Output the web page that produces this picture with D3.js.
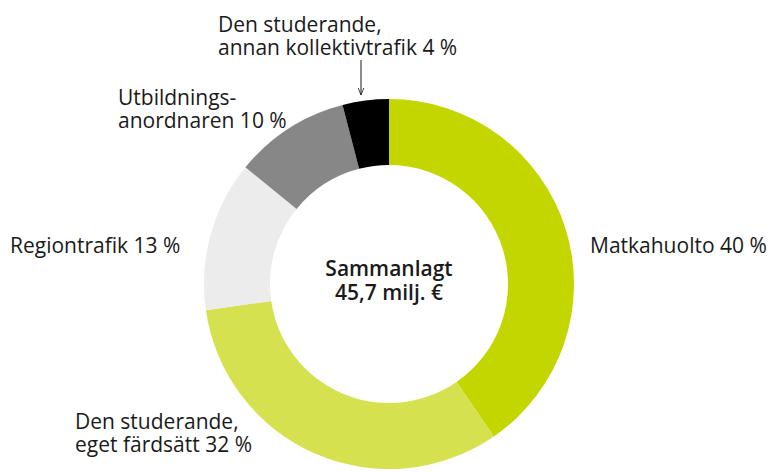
<!DOCTYPE html>
<html>
<head>
<meta charset="utf-8">
<script src="https://cdn.jsdelivr.net/npm/d3@7"></script>
<style>
  body { margin: 0; background: #fff; }
  svg text { font-family: "Open Sans", sans-serif; fill: #1a1a1a; }
  .lbl { font-size: 21px; }
  .total { font-size: 21px; font-weight: 600; }
</style>
</head>
<body>
<div class="chart"></div>
<script>
const categories = [
    "Matkahuolto",
    "Den studerande, eget färdsätt",
    "Regiontrafik",
    "Utbildningsanordnaren",
    "Den studerande, annan kollektivtrafik"
]
const shares = [40, 32, 13, 10, 4]
const colors = ["#c4d600", "#d5e14f", "#ececec", "#878787", "#000000"]
const labelLines = [
    ["Matkahuolto 40 %"],
    ["Den studerande,", "eget färdsätt 32 %"],
    ["Regiontrafik 13 %"],
    ["Utbildnings-", "anordnaren 10 %"],
    ["Den studerande,", "annan kollektivtrafik 4 %"]
]
const totalLines = ["Sammanlagt", "45,7 milj. €"]

function drawDonut() {
    let dimensions = {
        width: 771,
        height: 472,
        cx: 389,
        cy: 284,
        outer: 185,
        inner: 119,
    }

    const wrapper = d3.select(".chart")
        .append("svg")
        .attr("width", dimensions.width)
        .attr("height", dimensions.height)

    const bounds = wrapper.append("g")
        .attr("transform", `translate(${dimensions.cx},${dimensions.cy})`)

    const data = categories.map((c, i) => ({ name: c, value: shares[i], color: colors[i], lines: labelLines[i] }))

    const pie = d3.pie().sort(null).value(d => d.value)
    const arc = d3.arc().innerRadius(dimensions.inner).outerRadius(dimensions.outer)

    const arcs = pie(data)

    bounds.selectAll("path")
        .data(arcs)
        .join("path")
        .attr("d", arc)
        .attr("fill", d => d.data.color)

    // where each label starts (first baseline)
    const labelPos = [
        { x: 590, y: 253 },
        { x: 75, y: 429 },
        { x: 10, y: 253 },
        { x: 118, y: 105 },
        { x: 218, y: 32 }
    ]

    const lineHeight = 23

    const labels = wrapper.append("g")
        .selectAll("text")
        .data(arcs)
        .join("text")
        .attr("class", "lbl")
        .attr("x", (d, i) => labelPos[i].x)
        .attr("y", (d, i) => labelPos[i].y)

    labels.selectAll("tspan")
        .data((d, i) => d.data.lines.map(l => ({ l, x: labelPos[i].x })))
        .join("tspan")
        .attr("x", d => d.x)
        .attr("dy", (d, i) => i == 0 ? 0 : lineHeight)
        .text(d => d.l)

    // arrow pointing at the small black slice
    const defs = wrapper.append("defs")
    defs.append("marker")
        .attr("id", "arrow")
        .attr("viewBox", "0 0 10 10")
        .attr("refX", 10)
        .attr("refY", 5)
        .attr("markerWidth", 7)
        .attr("markerHeight", 7)
        .attr("orient", "auto")
        .append("path")
        .attr("d", "M0,1 L10,5 L0,9")
        .attr("fill", "none")
        .attr("stroke", "#1a1a1a")
        .attr("stroke-width", 1.2)

    wrapper.append("line")
        .attr("x1", 361)
        .attr("x2", 361)
        .attr("y1", 60)
        .attr("y2", 95)
        .attr("stroke", "#1a1a1a")
        .attr("stroke-width", 1)
        .attr("marker-end", "url(#arrow)")

    // total in the middle
    bounds.append("text")
        .attr("class", "total")
        .attr("text-anchor", "middle")
        .selectAll("tspan")
        .data(totalLines)
        .join("tspan")
        .attr("x", 0)
        .attr("y", (d, i) => -8 + i * 24)
        .text(d => d)
}

drawDonut()
</script>
</body>
</html>
